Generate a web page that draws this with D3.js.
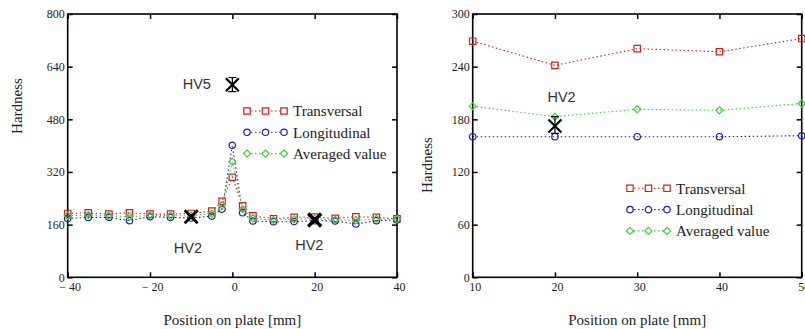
<!DOCTYPE html>
<html lang="en">
<head>
    <meta charset="UTF-8">
    <title>Hardness profiles</title>
    <script src="https://cdn.jsdelivr.net/npm/d3@7"></script>
    <style>
        html, body {
            margin: 0;
            background: #fff;
        }

        .tick text {
            font-family: "Liberation Serif", "Times New Roman", serif;
            font-size: 12px;
            fill: #222;
        }

        .tick line {
            stroke: #000;
            stroke-width: 1.5px;
        }

        .domain {
            display: none;
        }
    </style>
</head>
<body>
<script>

    // left panel (across the weld)
    var leftPositions = [-40, -35, -30, -25, -20, -15, -10, -5, -2.5, 0, 2.5, 5, 10, 15, 20, 25, 30, 35, 40];
    var leftTransversal = [194, 196, 192, 196, 192, 192, 194, 201, 231, 304, 217, 187, 178, 182, 183, 179, 184, 182, 178];
    var leftLongitudinal = [179, 182, 182, 172, 184, 182, 180, 186, 207, 401, 196, 171, 169, 169, 172, 171, 162, 172, 174];
    var leftAveraged = [187, 189, 187, 184, 188, 187, 187, 194, 219, 351, 207, 179, 174, 176, 178, 175, 173, 177, 176];
    var leftXTicks = [-40, -20, 0, 20, 40];
    var leftYTicks = [0, 160, 320, 480, 640, 800];

    // right panel
    var rightPositions = [10, 20, 30, 40, 50];
    var rightTransversal = [269, 241.5, 260.5, 257, 272];
    var rightLongitudinal = [160.2, 160.2, 160.2, 160.2, 161.3];
    var rightAveraged = [195, 183, 191.4, 190.2, 198];
    var rightXTicks = [10, 20, 30, 40, 50];
    var rightYTicks = [0, 60, 120, 180, 240, 300];

    var seriesNames = ["Transversal", "Longitudinal", "Averaged value"];

    // separate HV measurements: position, value, error bar low/high
    var leftHV = [
        {x: 0, v: 585, lo: 564, hi: 607, bold: 0},
        {x: -10, v: 184, lo: null, hi: null, bold: 1},
        {x: 20, v: 174, lo: 168, hi: 181, bold: 2}
    ];
    var rightHV = [
        {x: 20, v: 172.4, lo: 164, hi: 183, bold: 0}
    ];
    // label text and anchor point in data units
    var leftHVLabels = [
        {text: "HV5", x: -5.2, v: 572, anchor: "end"},
        {text: "HV2", x: -10.8, v: 75, anchor: "middle"},
        {text: "HV2", x: 18.7, v: 83, anchor: "middle"}
    ];
    var rightHVLabels = [
        {text: "HV2", x: 20.8, v: 199.7, anchor: "middle"}
    ];

    var colors = ["#cc2020", "#2020a8", "#40cc40"];
    var width = 805, height = 329;

    var svg = d3.select('body').append('svg').attr('width', width).attr('height', height);

    function symbolPath(kind, cx, cy) {
        if (kind === 0) {
            return 'M' + (cx - 3.2) + ',' + (cy - 3.2) + 'h6.4v6.4h-6.4z';
        }
        if (kind === 1) {
            return 'M' + (cx - 3.2) + ',' + cy + 'a3.2,3.2 0 1,0 6.4,0a3.2,3.2 0 1,0 -6.4,0z';
        }
        return 'M' + cx + ',' + (cy - 3.6) + 'l3.6,3.6l-3.6,3.6l-3.6,-3.6z';
    }

    function drawPanel(opts) {
        var x = d3.scaleLinear().domain(opts.xDomain).range([opts.left, opts.right]);
        var y = d3.scaleLinear().domain(opts.yDomain).range([opts.bottom, opts.top]);
        var g = svg.append('g');

        var fmt = function (d) {
            return d < 0 ? '\u2212 ' + Math.abs(d) : String(d);
        };

        g.append('g').attr('transform', 'translate(0,' + opts.bottom + ')')
            .call(d3.axisBottom(x).tickValues(opts.xTicks).tickSize(-5).tickPadding(5).tickFormat(fmt))
            .selectAll('text').attr('dx', 2);
        g.append('g').attr('transform', 'translate(0,' + opts.top + ')')
            .call(d3.axisTop(x).tickValues(opts.xTicks).tickSize(-5).tickFormat(''));
        g.append('g').attr('transform', 'translate(' + opts.left + ',0)')
            .call(d3.axisLeft(y).tickValues(opts.yTicks).tickSize(-5).tickPadding(3));
        g.append('g').attr('transform', 'translate(' + opts.right + ',0)')
            .call(d3.axisRight(y).tickValues(opts.yTicks).tickSize(-5).tickFormat(''));

        g.append('rect')
            .attr('x', opts.left).attr('y', opts.top)
            .attr('width', opts.right - opts.left).attr('height', opts.bottom - opts.top)
            .attr('fill', 'none').attr('stroke', '#000').attr('stroke-width', 1.6);

        // axis titles
        g.append('text')
            .attr('x', (opts.left + opts.right) / 2).attr('y', 325)
            .attr('text-anchor', 'middle')
            .style('font-family', '"Liberation Serif", serif').style('font-size', '15px').style('fill', '#222')
            .text('Position on plate [mm]');
        g.append('text')
            .attr('transform', 'translate(' + opts.yTitleX + ',' + opts.yTitleY + ') rotate(-90)')
            .attr('text-anchor', 'middle')
            .style('font-family', '"Liberation Serif", serif').style('font-size', '15px').style('fill', '#222')
            .text('Hardness');

        var line = d3.line()
            .x(function (d) { return x(d[0]); })
            .y(function (d) { return y(d[1]); });

        opts.series.forEach(function (vals, i) {
            var pts = opts.positions.map(function (p, j) { return [p, vals[j]]; });
            g.append('path').attr('d', line(pts))
                .attr('fill', 'none').attr('stroke', colors[i])
                .attr('stroke-width', 1.1).attr('stroke-dasharray', '1.5,2.5');
            g.selectAll('.m' + i).data(pts).enter().append('path')
                .attr('class', 'm' + i)
                .attr('d', function (d) { return symbolPath(i, x(d[0]), y(d[1])); })
                .attr('fill', 'none').attr('stroke', colors[i]).attr('stroke-width', 1.2);
        });

        // HV crosses with error bars
        opts.hv.forEach(function (h) {
            var cx = x(h.x), cy = y(h.v), s = 6.5;
            var sw = h.bold === 0 ? 2.2 : (h.bold === 1 ? 2.8 : 3.4);
            g.append('path')
                .attr('d', 'M' + (cx - s) + ',' + (cy - s) + 'L' + (cx + s) + ',' + (cy + s) +
                    'M' + (cx + s) + ',' + (cy - s) + 'L' + (cx - s) + ',' + (cy + s))
                .attr('stroke', '#000').attr('stroke-width', sw).attr('fill', 'none');
            if (h.lo !== null) {
                var y1 = y(h.hi), y2 = y(h.lo);
                g.append('path')
                    .attr('d', 'M' + cx + ',' + y1 + 'V' + y2 +
                        'M' + (cx - 4) + ',' + y1 + 'h8M' + (cx - 4) + ',' + y2 + 'h8')
                    .attr('stroke', '#000').attr('stroke-width', 1.2).attr('fill', 'none');
            }
        });
        opts.labels.forEach(function (l) {
            g.append('text')
                .attr('x', x(l.x)).attr('y', y(l.v))
                .attr('text-anchor', l.anchor)
                .style('font-family', '"Liberation Sans", Arial, sans-serif')
                .style('font-size', '14.5px').style('fill', '#333')
                .text(l.text);
        });

        // legend
        var lg = g.append('g').attr('transform', 'translate(' + opts.legendX + ',' + opts.legendY + ')');
        seriesNames.forEach(function (name, i) {
            var ry = i * 21.3;
            lg.append('line')
                .attr('x1', 0).attr('x2', 37).attr('y1', ry).attr('y2', ry)
                .attr('stroke', colors[i]).attr('stroke-width', 1.1).attr('stroke-dasharray', '1.5,2.5');
            [0, 18.5, 37].forEach(function (sx) {
                lg.append('path').attr('d', symbolPath(i, sx, ry))
                    .attr('fill', '#fff').attr('stroke', colors[i]).attr('stroke-width', 1.2);
            });
            lg.append('text')
                .attr('x', 46).attr('y', ry).attr('dy', '0.35em')
                .style('font-family', '"Liberation Serif", serif').style('font-size', '15px').style('fill', '#222')
                .text(name);
        });
    }

    drawPanel({
        left: 67.7, right: 397, top: 14, bottom: 277.3,
        xDomain: [-40, 40], yDomain: [0, 800],
        xTicks: leftXTicks, yTicks: leftYTicks,
        positions: leftPositions,
        series: [leftTransversal, leftLongitudinal, leftAveraged],
        hv: leftHV, labels: leftHVLabels,
        legendX: 247, legendY: 111,
        yTitleX: 22, yTitleY: 106
    });

    drawPanel({
        left: 472.7, right: 801.7, top: 14, bottom: 277.3,
        xDomain: [10, 50], yDomain: [0, 300],
        xTicks: rightXTicks, yTicks: rightYTicks,
        positions: rightPositions,
        series: [rightTransversal, rightLongitudinal, rightAveraged],
        hv: rightHV, labels: rightHVLabels,
        legendX: 630, legendY: 188.3,
        yTitleX: 432, yTitleY: 165
    });

</script>
</body>
</html>
